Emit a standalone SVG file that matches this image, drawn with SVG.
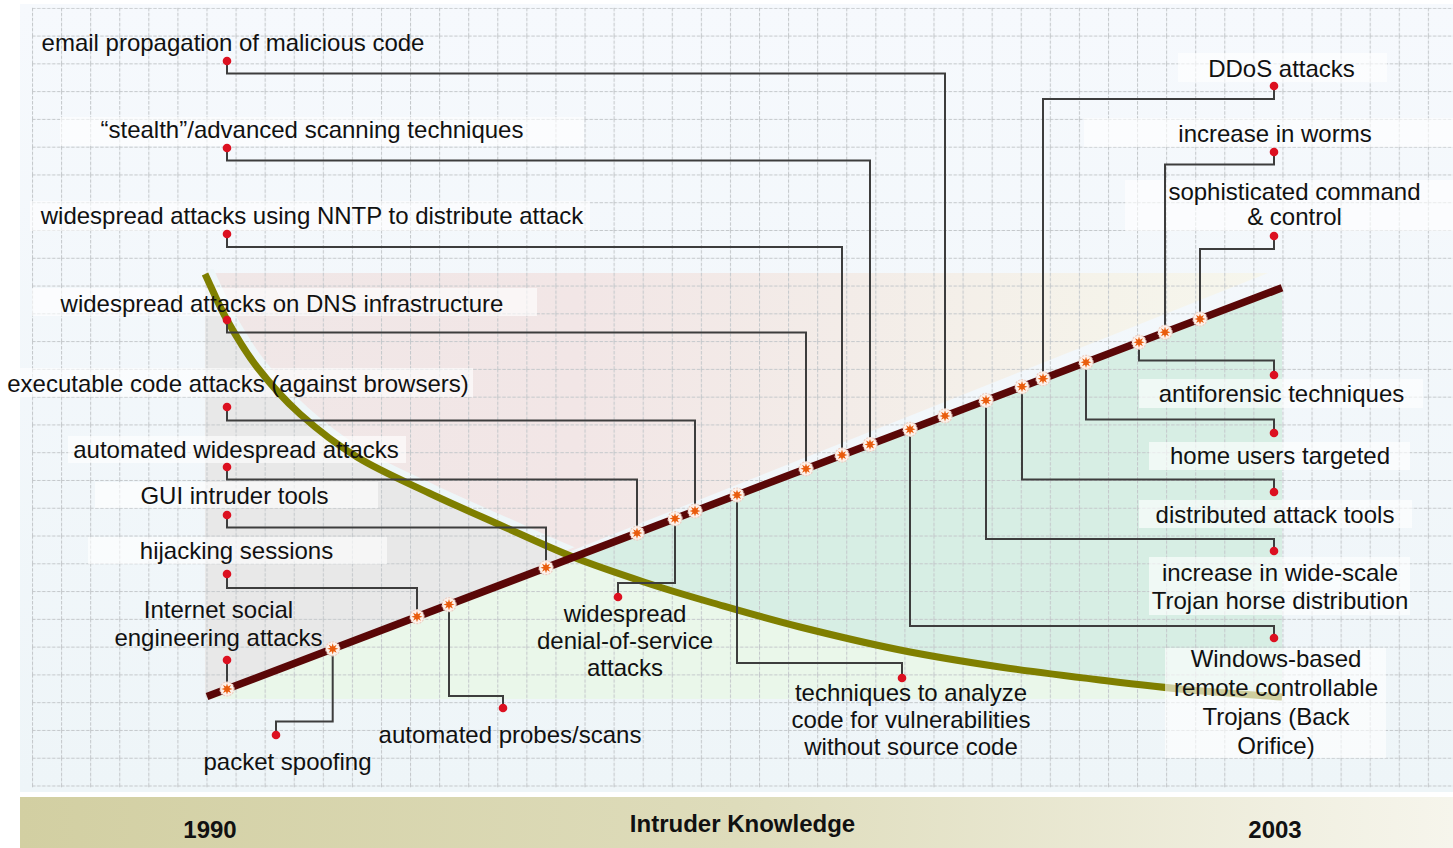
<svg xmlns="http://www.w3.org/2000/svg" width="1453" height="848" viewBox="0 0 1453 848">
<style>
.lbl{font-family:"Liberation Sans",Arial,sans-serif;font-size:24px;fill:#111;text-anchor:middle}
.axis{font-family:"Liberation Sans",Arial,sans-serif;font-size:24px;font-weight:bold;fill:#111;text-anchor:middle}
.box{fill:#ffffff;fill-opacity:0.62}
.dot{fill:#dc1020}
.conn{fill:none;stroke:#3d3d3d;stroke-width:2}
</style>
<defs>
<linearGradient id="bgGrad" x1="0" y1="0" x2="0" y2="1">
<stop offset="0" stop-color="#f6f9fd"/>
<stop offset="1" stop-color="#eef5f8"/>
</linearGradient>
<linearGradient id="upGrad" x1="205" y1="0" x2="1268" y2="0" gradientUnits="userSpaceOnUse">
<stop offset="0" stop-color="#f0e7e7"/>
<stop offset="0.35" stop-color="#f2e6e6"/>
<stop offset="0.6" stop-color="#f3ece8"/>
<stop offset="0.85" stop-color="#f5f3ea"/>
<stop offset="1" stop-color="#f6f6ed"/>
</linearGradient>
<linearGradient id="bandGrad" x1="0" y1="0" x2="1" y2="0">
<stop offset="0" stop-color="#d2cfa2"/>
<stop offset="0.5" stop-color="#dedcbb"/>
<stop offset="1" stop-color="#f6f5ec"/>
</linearGradient>
<pattern id="grid" patternUnits="userSpaceOnUse" x="32" y="7.8" width="29.08" height="27.775">
<path d="M0,0.5 H29.08 M0.5,0 V27.775" fill="none" stroke="#c4c8cb" stroke-width="1.1" stroke-dasharray="3.5 1.5"/>
</pattern>
<clipPath id="upClip">
<polygon points="205,273 1268,273 205,697"/>
</clipPath>
<path id="curve" d="M205,274 C212.3,289.3 218.3,304.5 227,320 C235.7,335.5 244.8,351.3 257,367 C269.2,382.7 283.3,399 300,414 C316.7,429 335.5,443.8 357,457 C378.5,470.2 405.2,481.7 429,493 C452.8,504.3 476,514.3 500,525 C524,535.7 548.5,547.3 573,557 C597.5,566.7 623.7,575.3 647,583 C670.3,590.7 687.5,595.7 713,603 C738.5,610.3 768.8,619.2 800,627 C831.2,634.8 866.7,643.3 900,650 C933.3,656.7 966.7,662 1000,667 C1033.3,672 1068.3,676.2 1100,680 C1131.7,683.8 1159.7,687.2 1190,690 C1220.3,692.8 1251.3,694.7 1282,697"/>
<g id="mk">
<circle r="7" fill="#fdf1ea" stroke="#eccfc4" stroke-width="1.2" stroke-dasharray="2 1.2"/>
<polygon points="0,-5.6 1,-2.4 3.96,-3.96 2.4,-1 5.6,0 2.4,1 3.96,3.96 1,2.4 0,5.6 -1,2.4 -3.96,3.96 -2.4,1 -5.6,0 -2.4,-1 -3.96,-3.96 -1,-2.4" fill="#e95c0c"/>
</g>
</defs>

<!-- background -->
<rect x="0" y="0" width="1453" height="848" fill="#ffffff"/>
<rect x="20" y="4" width="1433" height="788" fill="url(#bgGrad)"/>

<!-- regions -->
<g id="regions">
<polygon points="205,273 1268,273 205,697" fill="url(#upGrad)"/>
<use href="#curve" fill="none" stroke="#eef6f8" stroke-width="9" transform="translate(4,-4)" clip-path="url(#upClip)"/>
<path d="M205,274 C212.3,289.3 218.3,304.5 227,320 C235.7,335.5 244.8,351.3 257,367 C269.2,382.7 283.3,399 300,414 C316.7,429 335.5,443.8 357,457 C378.5,470.2 405.2,481.7 429,493 C452.8,504.3 476,514.3 500,525 C524,535.7 548.5,547.3 573,557 L207,696.6 L205,697 Z" fill="#e8e8e8"/>
<polygon points="207,699 1282,287.8 1282,699" fill="#eaf7ea"/>
<path d="M573,557.4 L1282,287.8 L1282,697 C1251.3,694.7 1220.3,692.8 1190,690 C1159.7,687.2 1131.7,683.8 1100,680 C1068.3,676.2 1033.3,672 1000,667 C966.7,662 933.3,656.7 900,650 C866.7,643.3 831.2,634.8 800,627 C768.8,619.2 738.5,610.3 713,603 C687.5,595.7 670.3,590.7 647,583 C623.7,575.3 597.5,566.7 573,557 Z" fill="#d7eee4"/>
</g>

<!-- grid -->
<rect x="32" y="7.8" width="1421" height="779.5" fill="url(#grid)"/>

<!-- bottom band -->
<g id="axis">
<rect x="20" y="797" width="1433" height="51" fill="url(#bandGrad)"/>
<text class="axis" x="210" y="837.5">1990</text>
<text class="axis" x="742.5" y="831.5">Intruder Knowledge</text>
<text class="axis" x="1275" y="837.5">2003</text>
</g>

<!-- label backgrounds (beneath curve) -->
<g id="label-boxes">
<rect class="box" x="60" y="117" width="524" height="29"/>
<rect class="box" x="30" y="201" width="560" height="30"/>
<rect class="box" x="32" y="288" width="505" height="28"/>
<rect class="box" x="0" y="368" width="473" height="29"/>
<rect class="box" x="68" y="436" width="338" height="27"/>
<rect class="box" x="95" y="482" width="283" height="26"/>
<rect class="box" x="88" y="537" width="299" height="27"/>
<rect class="box" x="1178" y="53" width="209" height="29"/>
<rect class="box" x="1084" y="118" width="369" height="29"/>
<rect class="box" x="1125" y="180" width="328" height="51"/>
<rect class="box" x="1139" y="379" width="284" height="29"/>
<rect class="box" x="1149" y="442" width="261" height="28"/>
<rect class="box" x="1139" y="500" width="273" height="28"/>
<rect class="box" x="1149" y="557" width="261" height="58"/>
</g>

<!-- curve and timeline -->
<use id="knowledge-curve" href="#curve" fill="none" stroke="#7f7f00" stroke-width="7"/>
<line id="sophistication-line" x1="207" y1="696.6" x2="1282" y2="287.8" stroke="#5a0707" stroke-width="7.5"/>

<!-- connectors -->
<g id="connectors" class="conn">
<path d="M227,61 V73.5 H945 V416"/>
<path d="M227,148 V160.5 H870 V444.5"/>
<path d="M227,234 V247 H842 V455"/>
<path d="M227,320 V332.5 H806 V469"/>
<path d="M227,407 V420.5 H695 V511"/>
<path d="M227,467 V479.5 H637 V533"/>
<path d="M227,515 V527.5 H546 V568"/>
<path d="M227,574 V588 H417 V617"/>
<path d="M227,660 V689"/>
<path d="M276,735 V721.5 H332.7 V649"/>
<path d="M503,708 V696 H449 V605"/>
<path d="M618,597 V583 H675 V518.6"/>
<path d="M902,678 V663 H737 V495"/>
<path d="M1274,86 V99 H1043 V379"/>
<path d="M1274,152 V164.5 H1165 V332"/>
<path d="M1274,236 V249 H1200 V319"/>
<path d="M1274,375 V360.5 H1139 V342"/>
<path d="M1274,433 V419.5 H1086 V362"/>
<path d="M1274,492 V479.5 H1022 V387"/>
<path d="M1274,551 V539 H986 V400"/>
<path d="M1274,638 V626 H910 V429"/>
</g>

<!-- event markers on the line -->
<g id="markers">
<use href="#mk" x="227" y="689"/>
<use href="#mk" x="332.7" y="648.8"/>
<use href="#mk" x="417" y="616.7"/>
<use href="#mk" x="449" y="604.6"/>
<use href="#mk" x="546" y="567.7"/>
<use href="#mk" x="637" y="533.1"/>
<use href="#mk" x="675" y="518.6"/>
<use href="#mk" x="695" y="511"/>
<use href="#mk" x="737" y="495"/>
<use href="#mk" x="806" y="468.8"/>
<use href="#mk" x="842" y="455.1"/>
<use href="#mk" x="870" y="444.5"/>
<use href="#mk" x="910" y="429.3"/>
<use href="#mk" x="945" y="415.9"/>
<use href="#mk" x="986" y="400.4"/>
<use href="#mk" x="1022" y="386.7"/>
<use href="#mk" x="1043" y="378.7"/>
<use href="#mk" x="1086" y="362.3"/>
<use href="#mk" x="1139" y="342.2"/>
<use href="#mk" x="1165" y="332.3"/>
<use href="#mk" x="1200" y="319"/>
</g>

<!-- nodes -->
<g id="n-email"><circle class="dot" cx="227" cy="61" r="4.3"/><text class="lbl" x="233" y="51">email propagation of malicious code</text></g>
<g id="n-stealth"><circle class="dot" cx="227" cy="148" r="4.3"/><text class="lbl" x="312" y="137.5">“stealth”/advanced scanning techniques</text></g>
<g id="n-nntp"><circle class="dot" cx="227" cy="234" r="4.3"/><text class="lbl" x="312" y="224">widespread attacks using NNTP to distribute attack</text></g>
<g id="n-dns"><circle class="dot" cx="227" cy="320" r="4.3"/><text class="lbl" x="282" y="311.5">widespread attacks on DNS infrastructure</text></g>
<g id="n-executable"><circle class="dot" cx="227" cy="407" r="4.3"/><text class="lbl" x="238" y="391.5">executable code attacks (against browsers)</text></g>
<g id="n-automated"><circle class="dot" cx="227" cy="467" r="4.3"/><text class="lbl" x="236" y="458">automated widespread attacks</text></g>
<g id="n-gui"><circle class="dot" cx="227" cy="515" r="4.3"/><text class="lbl" x="234.5" y="504">GUI intruder tools</text></g>
<g id="n-hijacking"><circle class="dot" cx="227" cy="574" r="4.3"/><text class="lbl" x="236.5" y="559">hijacking sessions</text></g>
<g id="n-social"><circle class="dot" cx="227" cy="660" r="4.3"/><text class="lbl" x="218.5" y="617.5">Internet social</text><text class="lbl" x="218.5" y="646">engineering attacks</text></g>
<g id="n-spoofing"><circle class="dot" cx="276" cy="735" r="4.3"/><text class="lbl" x="287.5" y="770">packet spoofing</text></g>
<g id="n-probes"><circle class="dot" cx="503" cy="708" r="4.3"/><text class="lbl" x="510" y="743">automated probes/scans</text></g>
<g id="n-dos"><circle class="dot" cx="618" cy="597" r="4.3"/><text class="lbl" x="625" y="621.5">widespread</text><text class="lbl" x="625" y="648.5">denial-of-service</text><text class="lbl" x="625" y="675.5">attacks</text></g>
<g id="n-analyze"><circle class="dot" cx="902" cy="678" r="4.3"/><text class="lbl" x="911" y="701">techniques to analyze</text><text class="lbl" x="911" y="728">code for vulnerabilities</text><text class="lbl" x="911" y="755">without source code</text></g>
<g id="n-ddos"><circle class="dot" cx="1274" cy="86" r="4.3"/><text class="lbl" x="1281.5" y="76.5">DDoS attacks</text></g>
<g id="n-worms"><circle class="dot" cx="1274" cy="152" r="4.3"/><text class="lbl" x="1275" y="141.5">increase in worms</text></g>
<g id="n-command"><circle class="dot" cx="1274" cy="236" r="4.3"/><text class="lbl" x="1294.5" y="200">sophisticated command</text><text class="lbl" x="1294.5" y="225">&amp; control</text></g>
<g id="n-antiforensic"><circle class="dot" cx="1274" cy="375" r="4.3"/><text class="lbl" x="1281.5" y="401.5">antiforensic techniques</text></g>
<g id="n-home"><circle class="dot" cx="1274" cy="433" r="4.3"/><text class="lbl" x="1280" y="464">home users targeted</text></g>
<g id="n-distributed"><circle class="dot" cx="1274" cy="492" r="4.3"/><text class="lbl" x="1275" y="523">distributed attack tools</text></g>
<g id="n-trojan"><circle class="dot" cx="1274" cy="551" r="4.3"/><text class="lbl" x="1280" y="580.5">increase in wide-scale</text><text class="lbl" x="1280" y="608.5">Trojan horse distribution</text></g>
<g id="n-windows"><rect class="box" x="1165" y="648" width="221" height="110"/><circle class="dot" cx="1274" cy="638" r="4.3"/><text class="lbl" x="1276" y="666.5">Windows-based</text><text class="lbl" x="1276" y="696">remote controllable</text><text class="lbl" x="1276" y="725">Trojans (Back</text><text class="lbl" x="1276" y="753.5">Orifice)</text></g>
</svg>
